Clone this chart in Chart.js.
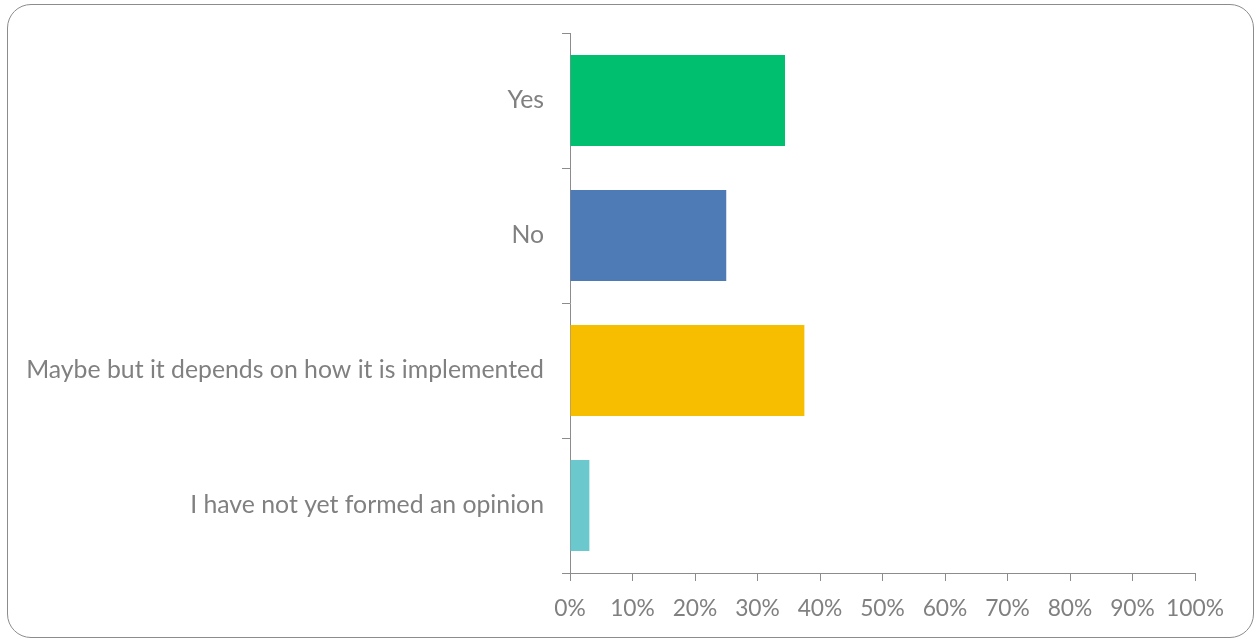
<!DOCTYPE html>
<html>
<head>
<meta charset="utf-8">
<script src="https://cdn.jsdelivr.net/npm/chart.js@4/dist/chart.umd.min.js"></script>
<style>
  html, body { margin: 0; padding: 0; background: #ffffff; }
  #wrap { position: relative; width: 1257px; height: 639px; }
  #frame {
    position: absolute; left: 7px; top: 4px; width: 1245px; height: 632px;
    border: 1px solid #8c8c8c; border-radius: 24px; pointer-events: none;
  }
  canvas { position: absolute; left: 0; top: 0; }
</style>
</head>
<body>
<div id="wrap">
  <canvas id="c" width="1257" height="639"></canvas>
  <div id="frame"></div>
</div>
<script>
// Survey answers and share of respondents (%)
const categories = [
  'Yes',
  'No',
  'Maybe but it depends on how it is implemented',
  'I have not yet formed an opinion'
];
const shares = [34.4, 25.0, 37.5, 3.1];
const barColors = ['#00BF6F', '#4E7BB5', '#F7BE00', '#6BC9CD'];
const xTicks = [0, 10, 20, 30, 40, 50, 60, 70, 80, 90, 100];

const axisGray = '#8c8c8c';
const textGray = '#808080';
const fontFamily = 'Lato, "Open Sans", sans-serif';

new Chart(document.getElementById('c'), {
  type: 'bar',
  data: {
    labels: categories,
    datasets: [{
      data: shares,
      backgroundColor: barColors,
      borderWidth: 0,
      categoryPercentage: 1.0,
      barPercentage: 0.675
    }]
  },
  options: {
    indexAxis: 'y',
    responsive: false,
    animation: false,
    layout: { padding: { left: 0, right: 62, top: 33, bottom: 0 } },
    plugins: { legend: { display: false }, tooltip: { enabled: false } },
    scales: {
      x: {
        min: 0, max: 100,
        afterBuildTicks: (s) => { s.ticks = xTicks.map(v => ({ value: v })); },
        afterFit: (s) => { s.height = 66; },
        border: { display: true, color: axisGray, width: 1 },
        grid: { display: true, drawOnChartArea: false, drawTicks: true, tickLength: 8, color: axisGray },
        ticks: {
          color: textGray, padding: 14, maxRotation: 0,
          font: { family: fontFamily, size: 22.8 },
          callback: (v) => v + '%'
        }
      },
      y: {
        afterFit: (s) => { s.width = 570; },
        border: { display: true, color: axisGray, width: 1 },
        grid: { display: true, offset: true, drawOnChartArea: false, drawTicks: true, tickLength: 8, color: axisGray },
        ticks: {
          color: textGray, padding: 18,
          font: { family: fontFamily, size: 24.8 }
        }
      }
    }
  }
});
</script>
</body>
</html>
